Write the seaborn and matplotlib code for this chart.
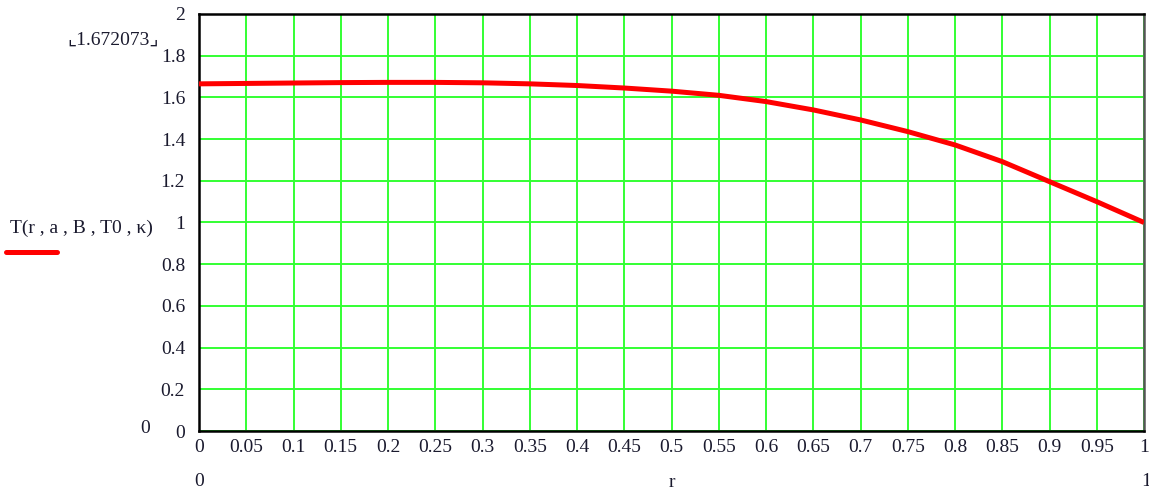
import numpy as np
import pandas as pd
import matplotlib
matplotlib.use("Agg")
import matplotlib.pyplot as plt
import seaborn as sns

# values
r_vals = [0.0, 0.05, 0.1, 0.15, 0.2, 0.25, 0.3, 0.35, 0.4, 0.45, 0.5,
          0.55, 0.6, 0.65, 0.7, 0.75, 0.8, 0.85, 0.9, 0.95, 1.0]
T_vals = [1.665, 1.667, 1.669, 1.671, 1.672, 1.672, 1.670, 1.665, 1.657, 1.645, 1.630,
          1.610, 1.580, 1.540, 1.492, 1.436, 1.372, 1.292, 1.196, 1.100, 1.000]
x_ticks = [0, 0.05, 0.1, 0.15, 0.2, 0.25, 0.3, 0.35, 0.4, 0.45, 0.5,
           0.55, 0.6, 0.65, 0.7, 0.75, 0.8, 0.85, 0.9, 0.95, 1]
y_ticks = [0, 0.2, 0.4, 0.6, 0.8, 1, 1.2, 1.4, 1.6, 1.8, 2]
max_label = "1.672073"
func_label = "T(r , a , B , T0 , κ)"

df = pd.DataFrame({"r": r_vals, "T": T_vals})

sns.set_style("white")
plt.rcParams['font.family'] = ['Liberation Serif', 'DejaVu Serif']

fig = plt.figure(figsize=(11.49, 4.90), dpi=100)
ax = fig.add_axes([199 / 1149, 59 / 490, 945 / 1149, 417 / 490])

sns.lineplot(data=df, x="r", y="T", ax=ax, color="#ff0000", linewidth=3.6,
             solid_capstyle="butt", zorder=3)

ax.set_xlim(0, 1)
ax.set_ylim(0, 2)
ax.set_xticks(x_ticks)
ax.set_yticks(y_ticks)
ax.set_xticklabels([f"{v:g}" for v in x_ticks], fontsize=14, color="#1a1a2e")
ax.set_yticklabels([f"{v:g}" for v in y_ticks], fontsize=14, color="#1a1a2e")
ax.tick_params(axis="both", length=0)
ax.tick_params(axis="x", pad=6)
ax.tick_params(axis="y", pad=10)
ax.grid(True, color="#33ff33", linewidth=1.4)
ax.set_axisbelow(True)
ax.set_xlabel("")
ax.set_ylabel("")
for s in ax.spines.values():
    s.set_color("black")
    s.set_linewidth(1.8)
ax.spines["right"].set_color("#555555")

# Mathcad-style annotations around the plot
fig.text(113 / 1149, 1 - 40 / 490, "⌞" + max_label + "⌟", fontsize=14,
         ha="center", va="center", color="#1a1a2e",
         family=['Liberation Serif', 'DejaVu Sans'])
fig.text(10 / 1149, 1 - 228 / 490, func_label, fontsize=14,
         ha="left", va="center", color="#1a1a2e")
fig.add_artist(plt.Line2D([6 / 1149, 57 / 1149], [1 - 252 / 490, 1 - 252 / 490],
                          color="#ff0000", linewidth=3.6, transform=fig.transFigure))
fig.text(145 / 1149, 1 - 428 / 490, "0", fontsize=14, ha="center", va="center", color="#1a1a2e")
fig.text(199 / 1149, 1 - 481 / 490, "0", fontsize=14, ha="center", va="center", color="#1a1a2e")
fig.text(1146 / 1149, 1 - 481 / 490, "1", fontsize=14, ha="center", va="center", color="#1a1a2e")
fig.text(672 / 1149, 1 - 482 / 490, "r", fontsize=14, ha="center", va="center", color="#1a1a2e")

fig.savefig("out.png", dpi=100)
